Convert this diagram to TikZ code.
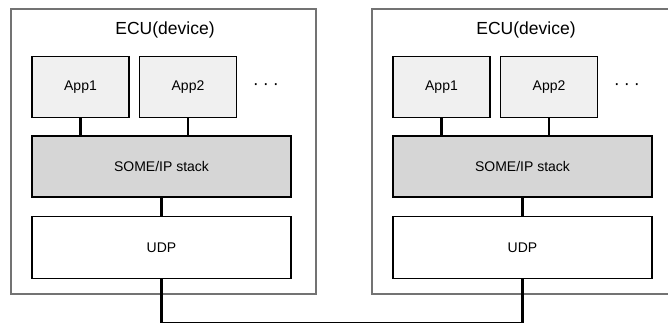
\documentclass[tikz,border=0pt]{standalone}
\usepackage{fontspec}
\setmainfont{Liberation Sans}
\usetikzlibrary{positioning}
\begin{document}
\begin{tikzpicture}[x=1pt, y=-1pt, font=\fontsize{14}{16}\selectfont,
    box/.style={draw, line width=1.5pt, inner sep=0pt, minimum height=61pt},
    appbox/.style={box, fill=black!6, minimum width=97pt},
    stackbox/.style={box, fill=black!16, minimum width=259pt},
    udpbox/.style={box, fill=white, minimum width=259pt, minimum height=62pt},
    ecubox/.style={draw=black!55, line width=1.2pt, inner sep=0pt, minimum width=305pt, minimum height=285pt},
    link/.style={line width=2.2pt}]
    \path[use as bounding box, clip] (0,0) rectangle (668,322);
    % two ECUs side by side
    \foreach \s/\dx in {L/0, R/361} {
        \node[ecubox] (ecu\s) at (163.5+\dx,151.5) {};
        \node[font=\fontsize{17.5}{20}\selectfont] (title\s) at (165+\dx,30) {ECU(device)};
        \node[appbox] (appa\s) at (80.5+\dx,87) {App1};
        \node[appbox, right=9pt of appa\s] (appb\s) {App2};
        \node[right=12pt of appb\s, font=\fontsize{18}{20}\selectfont] (dots\s) {·\hspace{4pt}·\hspace{4pt}·};
        \node[stackbox, below=17pt of appa\s.south west, anchor=north west] (some\s) {SOME/IP stack};
        \node[udpbox, below=18pt of some\s] (udp\s) {UDP};
        \draw[link] (appa\s) -- (appa\s |- some\s.north);
        \draw[link] (appb\s) -- (appb\s |- some\s.north);
        \draw[link] (some\s) -- (udp\s);
    }
    \draw[link] (udpL.south) -- ++(0,44) -| (udpR.south);
\end{tikzpicture}
\end{document}
